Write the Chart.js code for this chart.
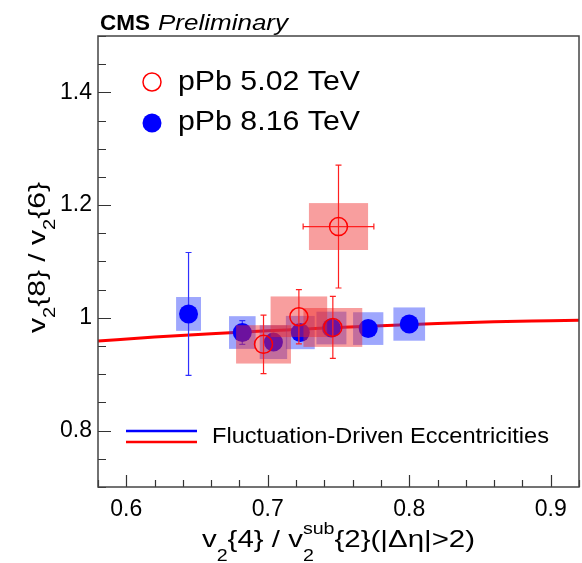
<!DOCTYPE html>
<html>
<head>
<meta charset="utf-8">
<script src="https://cdn.jsdelivr.net/npm/chart.js@4.4.1/dist/chart.umd.min.js"></script>
<style>
  html, body { margin: 0; padding: 0; background: #fff; }
  canvas { display: block; }
</style>
</head>
<body>
<canvas id="chart" width="582" height="563"></canvas>
<script>
// tick labels
const xTickLabels = [0.6, 0.7, 0.8, 0.9];
const yTickLabels = [0.8, 1.0, 1.2, 1.4];
const xMinorStep = 0.02;
const yMinorStep = 0.05;

// pPb 5.02 TeV (open red circles)
const pPb502X = [0.697, 0.722, 0.746, 0.750];
const pPb502Y = [0.953, 1.002, 0.983, 1.162];
const pPb502StatY = [0.052, 0.048, 0.055, 0.109];
const pPb502StatX = [0, 0, 0, 0.025];
const pPb502SysX = [0.0194, 0.020, 0.0208, 0.0209];
const pPb502SysY = [0.034, 0.036, 0.0345, 0.0416];

// pPb 8.16 TeV (full blue circles)
const pPb816X = [0.644, 0.682, 0.704, 0.723, 0.745, 0.771, 0.800];
const pPb816Y = [1.007, 0.974, 0.957, 0.974, 0.982, 0.981, 0.989];
const pPb816StatY = [0.109, 0.021, 0.004, 0.004, 0.004, 0.004, 0.004];
const pPb816SysX = [0.0088, 0.0094, 0.0097, 0.0102, 0.0106, 0.0107, 0.0112];
const pPb816SysY = [0.030, 0.029, 0.030, 0.0295, 0.029, 0.029, 0.0295];

// fluctuation-driven eccentricities curve
const curveX = [0.58, 0.62, 0.66, 0.70, 0.74, 0.78, 0.82, 0.86, 0.90, 0.92];
const curveY = [0.959, 0.966, 0.972, 0.977, 0.982, 0.986, 0.990, 0.993, 0.995, 0.996];

const FONT = '"Liberation Sans", Arial, Helvetica, sans-serif';

const toPts = (xs, ys) => xs.map((x, i) => ({ x: x, y: ys[i] }));

// the reference lettering is a little wider than Arial, so stretch to a width
function fitText(ctx, text, x, y, font, width) {
  ctx.font = font;
  const w = ctx.measureText(text).width;
  ctx.save();
  ctx.translate(x, y);
  ctx.scale(width / w, 1);
  ctx.fillText(text, 0, 0);
  ctx.restore();
}

// boxes + error bars, drawn just under each dataset's markers
const errorPlugin = {
  id: 'errors',
  beforeDatasetDraw(chart, args) {
    const ds = chart.data.datasets[args.index];
    if (!ds.err) return;
    const e = ds.err;
    const ctx = chart.ctx, xs = chart.scales.x, ys = chart.scales.y;
    const a = chart.chartArea;
    ctx.save();
    ctx.beginPath();
    ctx.rect(a.left, a.top, a.right - a.left, a.bottom - a.top);
    ctx.clip();
    ds.data.forEach((p, i) => {
      const x0 = xs.getPixelForValue(p.x - e.sysX[i]);
      const x1 = xs.getPixelForValue(p.x + e.sysX[i]);
      const y0 = ys.getPixelForValue(p.y + e.sysY[i]);
      const y1 = ys.getPixelForValue(p.y - e.sysY[i]);
      ctx.fillStyle = e.boxColor;
      ctx.fillRect(x0, y0, x1 - x0, y1 - y0);
    });
    ctx.strokeStyle = e.lineColor;
    ctx.lineWidth = 1.2;
    ds.data.forEach((p, i) => {
      const px = xs.getPixelForValue(p.x);
      const py = ys.getPixelForValue(p.y);
      if (e.statY[i] > 0) {
        const t = ys.getPixelForValue(p.y + e.statY[i]);
        const b = ys.getPixelForValue(p.y - e.statY[i]);
        ctx.beginPath();
        ctx.moveTo(px, t); ctx.lineTo(px, b);
        ctx.moveTo(px - 3, t); ctx.lineTo(px + 3, t);
        ctx.moveTo(px - 3, b); ctx.lineTo(px + 3, b);
        ctx.stroke();
      }
      if (e.statX && e.statX[i] > 0) {
        const l = xs.getPixelForValue(p.x - e.statX[i]);
        const r = xs.getPixelForValue(p.x + e.statX[i]);
        ctx.beginPath();
        ctx.moveTo(l, py); ctx.lineTo(r, py);
        ctx.moveTo(l, py - 3); ctx.lineTo(l, py + 3);
        ctx.moveTo(r, py - 3); ctx.lineTo(r, py + 3);
        ctx.stroke();
      }
    });
    ctx.restore();
  }
};

// text with sub/superscripts; parts: string | {sub} | {sup, sub}
function drawRich(ctx, parts, x, y, o, draw) {
  let cx = x;
  parts.forEach(p => {
    if (typeof p === 'string') {
      ctx.font = o.size + 'px ' + FONT;
      if (draw) ctx.fillText(p, cx, y);
      cx += ctx.measureText(p).width;
    } else {
      ctx.font = o.small + 'px ' + FONT;
      let w = 0;
      if (p.sub) {
        if (draw) ctx.fillText(p.sub, cx, y + o.subDy);
        w = Math.max(w, ctx.measureText(p.sub).width);
      }
      if (p.sup) {
        if (draw) ctx.fillText(p.sup, cx, y - o.supDy);
        w = Math.max(w, ctx.measureText(p.sup).width);
      }
      cx += w;
    }
  });
  return cx - x;
}

const framePlugin = {
  id: 'frame',
  afterDraw(chart) {
    const ctx = chart.ctx, a = chart.chartArea;
    const xs = chart.scales.x, ys = chart.scales.y;
    ctx.save();
    // inward ticks
    ctx.strokeStyle = '#333';
    ctx.lineWidth = 1.2;
    ctx.beginPath();
    const nx = Math.round((xs.max - xs.min) / xMinorStep);
    for (let i = 0; i <= nx; i++) {
      const v = xs.min + i * xMinorStep;
      const major = Math.abs(v * 10 - Math.round(v * 10)) < 1e-6;
      const px = Math.round(xs.getPixelForValue(v)) + 0.5;
      ctx.moveTo(px, a.bottom);
      ctx.lineTo(px, a.bottom - (major ? 12 : 7));
    }
    const ny = Math.round((ys.max - ys.min) / yMinorStep);
    for (let i = 0; i <= ny; i++) {
      const v = ys.min + i * yMinorStep;
      const major = Math.abs(v * 5 - Math.round(v * 5)) < 1e-6;
      const py = Math.round(ys.getPixelForValue(v)) + 0.5;
      ctx.moveTo(a.left, py);
      ctx.lineTo(a.left + (major ? 13 : 8), py);
    }
    ctx.stroke();
    // frame
    ctx.strokeStyle = '#444';
    ctx.lineWidth = 1.5;
    ctx.strokeRect(a.left, a.top, a.right - a.left, a.bottom - a.top);

    ctx.fillStyle = '#000';
    ctx.textAlign = 'left';
    ctx.textBaseline = 'alphabetic';

    // CMS Preliminary
    fitText(ctx, 'CMS', 100, 30, 'bold 22px ' + FONT, 50);
    fitText(ctx, 'Preliminary', 158, 30, 'italic 22px ' + FONT, 130);

    // legend (top)
    ctx.lineWidth = 1.5;
    ctx.strokeStyle = '#ff0000';
    ctx.beginPath(); ctx.arc(152, 82, 9, 0, Math.PI * 2); ctx.stroke();
    ctx.fillStyle = '#0000ff';
    ctx.beginPath(); ctx.arc(152, 123, 9.5, 0, Math.PI * 2); ctx.fill();
    ctx.fillStyle = '#000';
    fitText(ctx, 'pPb 5.02 TeV', 178, 90, '27px ' + FONT, 182);
    fitText(ctx, 'pPb 8.16 TeV', 178, 130, '27px ' + FONT, 182);

    // legend (bottom)
    ctx.lineWidth = 2.5;
    ctx.strokeStyle = '#0000ff';
    ctx.beginPath(); ctx.moveTo(126, 431); ctx.lineTo(197, 431); ctx.stroke();
    ctx.strokeStyle = '#ff0000';
    ctx.beginPath(); ctx.moveTo(126, 442); ctx.lineTo(197, 442); ctx.stroke();
    fitText(ctx, 'Fluctuation-Driven Eccentricities', 212, 443, '22px ' + FONT, 337);

    // axis titles
    const o = { size: 24, small: 16, subDy: 14, supDy: 13 };
    const xt = ['v', { sub: '2' }, '{4} / v', { sup: 'sub', sub: '2' }, '{2}(|\u0394\u03b7|>2)'];
    const wx = drawRich(ctx, xt, 0, 0, o, false);
    ctx.save();
    ctx.translate(202, 547);
    ctx.scale(273 / wx, 1);
    drawRich(ctx, xt, 0, 0, o, true);
    ctx.restore();

    const yt = ['v', { sub: '2' }, '{8} / v', { sub: '2' }, '{6}'];
    const oy = { size: 24, small: 16, subDy: 10, supDy: 12 };
    const wy = drawRich(ctx, yt, 0, 0, oy, false);
    ctx.save();
    ctx.translate(45, 333);
    ctx.rotate(-Math.PI / 2);
    ctx.scale(151 / wy, 1);
    drawRich(ctx, yt, 0, 0, oy, true);
    ctx.restore();

    ctx.restore();
  }
};

new Chart(document.getElementById('chart'), {
  type: 'scatter',
  data: {
    datasets: [
      {
        label: 'pPb 5.02 TeV',
        data: toPts(pPb502X, pPb502Y),
        pointStyle: 'circle',
        pointRadius: 9,
        pointBorderWidth: 1.5,
        pointBorderColor: '#ff0000',
        pointBackgroundColor: 'rgba(0,0,0,0)',
        order: 1,
        err: { statY: pPb502StatY, statX: pPb502StatX, sysX: pPb502SysX, sysY: pPb502SysY,
               boxColor: 'rgba(240,40,40,0.45)', lineColor: '#ff2020' }
      },
      {
        label: 'pPb 8.16 TeV',
        data: toPts(pPb816X, pPb816Y),
        pointStyle: 'circle',
        pointRadius: 9.5,
        pointBorderWidth: 0,
        pointBackgroundColor: '#0000ff',
        order: 2,
        err: { statY: pPb816StatY, sysX: pPb816SysX, sysY: pPb816SysY,
               boxColor: 'rgba(40,60,250,0.45)', lineColor: '#3030ff' }
      },
      {
        type: 'line',
        label: 'Fluctuation-Driven Eccentricities',
        data: toPts(curveX, curveY),
        borderColor: '#ff0000',
        borderWidth: 3,
        pointRadius: 0,
        showLine: true,
        fill: false,
        cubicInterpolationMode: 'monotone',
        order: 3
      }
    ]
  },
  options: {
    responsive: false,
    animation: false,
    devicePixelRatio: 1,
    layout: { autoPadding: false, padding: { top: 36, right: 3, left: 0, bottom: 0 } },
    plugins: { legend: { display: false }, tooltip: { enabled: false } },
    scales: {
      x: {
        type: 'linear',
        min: 0.58,
        max: 0.92,
        grid: { display: false, drawTicks: false },
        border: { display: false },
        afterBuildTicks: s => { s.ticks = xTickLabels.map(v => ({ value: v })); },
        afterFit: s => { s.height = 76; s.paddingLeft = 0; s.paddingRight = 0; },
        ticks: {
          color: '#000',
          padding: 9,
          maxRotation: 0,
          autoSkip: false,
          font: { family: FONT, size: 23 },
          callback: v => String(Math.round(v * 10) / 10)
        }
      },
      y: {
        type: 'linear',
        min: 0.7,
        max: 1.5,
        grid: { display: false, drawTicks: false },
        border: { display: false },
        afterBuildTicks: s => { s.ticks = yTickLabels.map(v => ({ value: v })); },
        afterFit: s => { s.width = 98; s.paddingTop = 0; s.paddingBottom = 0; },
        ticks: {
          color: '#000',
          padding: 6,
          autoSkip: false,
          font: { family: FONT, size: 23 },
          callback: v => String(Math.round(v * 10) / 10)
        }
      }
    }
  },
  plugins: [errorPlugin, framePlugin]
});
</script>
</body>
</html>
